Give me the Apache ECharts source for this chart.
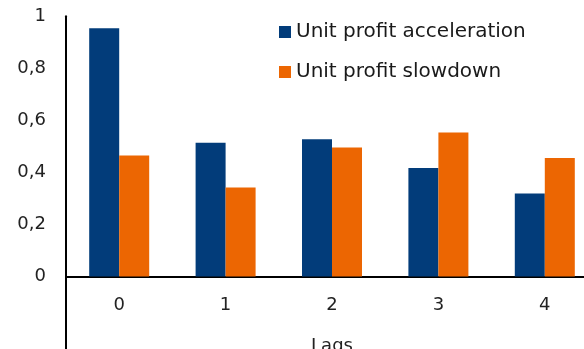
<!DOCTYPE html>
<html><head><meta charset="utf-8">
<script src="https://cdn.jsdelivr.net/npm/echarts@6/dist/echarts.min.js"></script>
<style>html,body{margin:0;padding:0;background:#fff}#c{width:584px;height:349px}</style>
</head><body><div id="c"></div>
<script>
const categories = ['0','1','2','3','4'];
const accel = [0.954, 0.514, 0.527, 0.417, 0.319];
const slow = [0.465, 0.342, 0.496, 0.553, 0.455];
const seriesNames = ['Unit profit acceleration','Unit profit slowdown'];
const axisName = 'Lags';
const FONT = 'DejaVu Sans';
const chart = echarts.init(document.getElementById('c'));
chart.setOption({
  animation:false,
  grid:[
    {left:66, top:16.3, width:532, height:260.2, containLabel:false, outerBoundsMode:'none'},
    {left:66, top:276, width:532, height:90, containLabel:false, outerBoundsMode:'none'}
  ],
  legend:{orient:'vertical', left:279, top:21, padding:0, itemWidth:12, itemHeight:12, itemGap:18,
    icon:'rect', textStyle:{fontFamily:FONT, fontSize:20, lineHeight:22, color:'#1a1a1a'},
    data:seriesNames},
  xAxis:[
    {gridIndex:0, type:'category', data:categories,
    axisLine:{lineStyle:{color:'#000', width:2}},
    axisTick:{show:false},
    axisLabel:{margin:20, fontFamily:FONT, fontSize:18, color:'#222'},
    name:axisName, nameLocation:'middle', nameGap:61,
    nameTextStyle:{fontFamily:FONT, fontSize:18, color:'#222'}},
    {gridIndex:1, type:'category', data:categories, show:false}
  ],
  yAxis:[
    {gridIndex:0, type:'value', min:0, max:1, interval:0.2,
    axisLine:{show:true, lineStyle:{color:'#000', width:2}},
    axisTick:{show:false}, splitLine:{show:false},
    axisLabel:{margin:20, fontFamily:FONT, fontSize:18, color:'#222',
      formatter:v=> (Math.round(v*10)/10).toString().replace('.',',')}},
    {gridIndex:1, type:'value', min:0, max:1,
    axisLine:{show:true, lineStyle:{color:'#000', width:2}},
    axisTick:{show:false}, splitLine:{show:false}, axisLabel:{show:false}}
  ],
  series:[
    {name:seriesNames[0], type:'bar', data:accel, barWidth:30, barGap:'0%', itemStyle:{color:'#023C7A'}},
    {name:seriesNames[1], type:'bar', data:slow, barWidth:30, barGap:'0%', itemStyle:{color:'#EC6602'}}
  ]
});
</script></body></html>
